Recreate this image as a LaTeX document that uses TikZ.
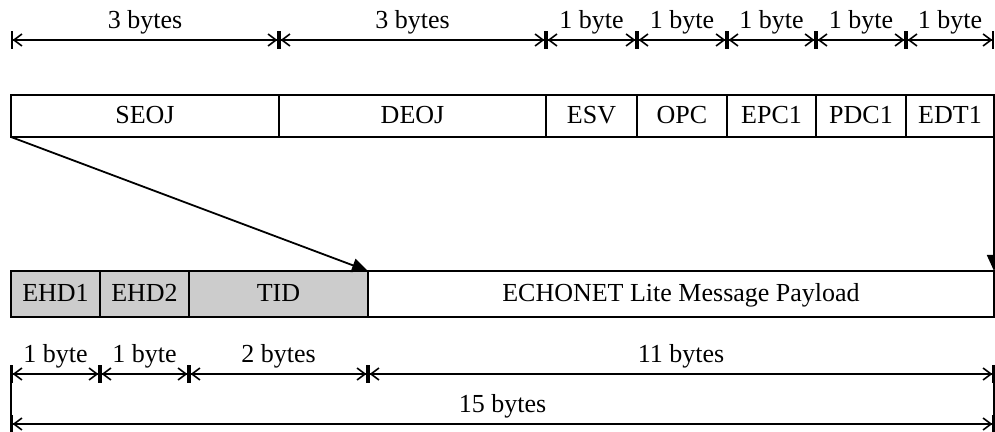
\documentclass[tikz,border=0pt]{standalone}
\usepackage{fontspec}
\setmainfont{Liberation Serif}
\usetikzlibrary{positioning, arrows.meta}

\begin{document}
\begin{tikzpicture}[x=0.5pt, y=-0.5pt]
	\tikzset{
		field/.style = {rectangle, draw, line width=0.9pt, outer sep=0pt, inner sep=0pt, text centered, text height=0.68em, text depth=0.1em},
		top/.style = {field, minimum height=21pt},
		bottom/.style = {field, minimum height=23pt},
		header/.style = {bottom, fill=black!20},
		dim/.style = {line width=0.8pt, {Bar[width=9pt]Straight Barb[length=4pt, width=6pt]}-{Straight Barb[length=4pt, width=6pt]Bar[width=9pt]}},
		size/.style = {above=1.5pt, inner sep=1pt},
		jump/.style = {line width=0.9pt, -{Triangle[length=8pt, width=7pt]}}
	}
	\useasboundingbox (0, 0) rectangle (995, 432);
	\fontsize{13}{15}\selectfont
	% frame of the payload
	\node[top, minimum width=134pt, anchor=north west] (seoj) at (11, 95) {SEOJ};
	\node[top, minimum width=133.5pt, right=0pt of seoj] (deoj) {DEOJ};
	\node[top, minimum width=45.5pt, right=0pt of deoj] (esv) {ESV};
	\node[top, minimum width=45pt, right=0pt of esv] (opc) {OPC};
	\node[top, minimum width=44.5pt, right=0pt of opc] (epc) {EPC1};
	\node[top, minimum width=45pt, right=0pt of epc] (pdc) {PDC1};
	\node[top, minimum width=44pt, right=0pt of pdc] (edt) {EDT1};
	% whole frame
	\node[header, minimum width=44.5pt, anchor=north west] (ehda) at (11, 271) {EHD1};
	\node[header, minimum width=44.5pt, right=0pt of ehda] (ehdb) {EHD2};
	\node[header, minimum width=89.5pt, right=0pt of ehdb] (tid) {TID};
	\node[bottom, minimum width=313pt, right=0pt of tid] (edata) {ECHONET Lite Message Payload};
	\draw[jump] (seoj.south west) -- (tid.north east);
	\draw[jump] (edt.south east) -- (edata.north east);
	% sizes on top
	\foreach \a/\t in {seoj/3 bytes, deoj/3 bytes, esv/1 byte, opc/1 byte, epc/1 byte, pdc/1 byte, edt/1 byte}
		\draw[dim] ([yshift=27.5pt]\a.north west) -- node[size]{\t} ([yshift=27.5pt]\a.north east);
	% sizes below
	\foreach \a/\t in {ehda/1 byte, ehdb/1 byte, tid/2 bytes, edata/11 bytes}
		\draw[dim] ([yshift=-28.5pt]\a.south west) -- node[size]{\t} ([yshift=-28.5pt]\a.south east);
	\draw[dim] ([yshift=-53.5pt]ehda.south west) -- node[size]{15 bytes} ([yshift=-53.5pt]edata.south east);
	\draw[line width=0.8pt] ([yshift=-24pt]ehda.south west) -- ([yshift=-57.5pt]ehda.south west);
	\draw[line width=0.8pt] ([yshift=-24pt]edata.south east) -- ([yshift=-57.5pt]edata.south east);
\end{tikzpicture}
\end{document}
